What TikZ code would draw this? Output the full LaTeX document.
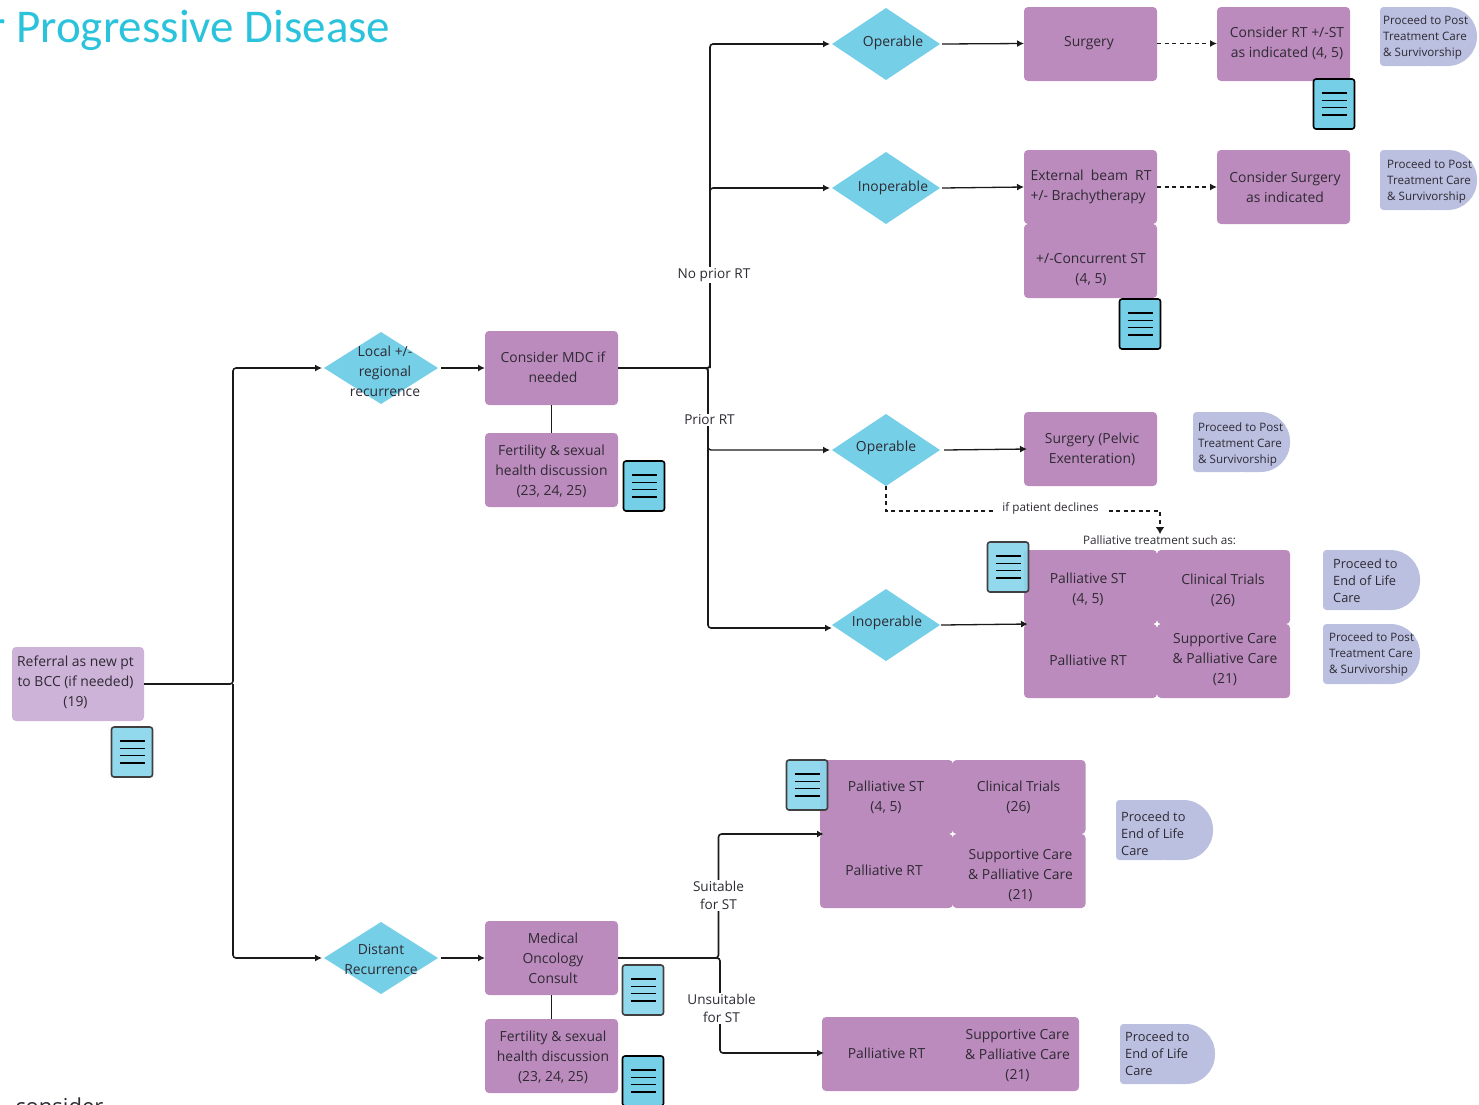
\documentclass[tikz,border=0pt]{standalone}
\usepackage{fontspec}
\setmainfont{Open Sans}
\newfontfamily\titlefont{Carlito}
\usetikzlibrary{shapes.geometric,arrows.meta}
\definecolor{purp}{HTML}{BC8BBD}
\definecolor{lpurp}{HTML}{CDB3D8}
\definecolor{lav}{HTML}{BBBFE0}
\definecolor{cyan1}{HTML}{75CFE7}
\definecolor{ttl}{HTML}{2BC3DC}
\definecolor{ink}{HTML}{2E2A33}
\definecolor{lnk}{HTML}{1A1A1A}
\tikzset{
 pbox/.style={rectangle,rounded corners=4pt,fill=purp,minimum width=133,minimum height=74,inner sep=0pt,outer sep=0pt},
 dia/.style={diamond,fill=cyan1,minimum width=108,minimum height=72,inner sep=0pt,outer sep=0pt},
 lbl/.style={align=center,text=ink,inner sep=0pt,yshift=-1pt,font=\fontsize{13.9}{20}\selectfont},
 tlbl/.style={align=left,anchor=west,text=ink,inner sep=0pt,yshift=-1pt,font=\fontsize{11.6}{16}\selectfont},
 tlblb/.style={align=left,anchor=west,text=ink,inner sep=0pt,yshift=-.6pt,font=\fontsize{12.8}{17}\selectfont},
 conn/.style={draw=lnk,line width=1.6pt,rounded corners=3pt},
 arr/.style={-{Latex[length=7pt,width=7pt]}},
 dashln/.style={draw=lnk,line width=1.5pt,dash pattern=on 4pt off 3.5pt},
 wlbl/.style={align=center,fill=white,text=ink,inner sep=1pt,yshift=-1pt,font=\fontsize{13.6}{19}\selectfont},
 slbl/.style={fill=white,text=ink,inner sep=1pt,yshift=-.5pt,font=\fontsize{11.7}{14}\selectfont},
 doc/.style={rectangle,rounded corners=2.5pt,draw=black,line width=1.6pt,fill=cyan1,minimum width=41,minimum height=50,inner sep=0pt,outer sep=0pt},
 docsoft/.style={doc,draw=black!75,fill=cyan1!85!white,fill opacity=0.92},
 docl/.style={draw=black,line width=1.3pt},
}
% doc icon: name, centre x, centre y, style
\newcommand{\docicon}[4]{%
 \node[#4] (#1) at (#2,#3) {};
 \foreach \dy in {-11,-3.7,3.7,11}
  \draw[docl] ([xshift=-12.5pt,yshift=-\dy pt]#1.center) -- ([xshift=12.5pt,yshift=-\dy pt]#1.center);
}
% terminator: x0,y0,x1,y1
\newcommand{\termshape}[4]{%
 \fill[lav,rounded corners=3.5pt] (#1,#2) rectangle (#1+50,#4);
 \fill[lav,rounded corners=29.5pt] (#1+20,#2) rectangle (#3,#4);
}
\begin{document}
\begin{tikzpicture}[x=1pt,y=-1pt]
\useasboundingbox (0,0) rectangle (1479,1104);
\clip (0,0) rectangle (1479,1104);

% clipped page text
\node[anchor=base east,inner sep=0pt,text=ttl,font=\titlefont\fontsize{47}{50}\selectfont] (title) at (390.5,42) {r Progressive Disease};
\node[anchor=base west,inner sep=0pt,text=ink,font=\fontsize{22}{24}\selectfont] (cons) at (15,1114) {consider};

% process boxes
\node[pbox,fill=lpurp,minimum width=132] (ref) at (78,684) {};
\node[pbox] (mdc) at (551.5,368) {};
\node[pbox] (fert1) at (551.5,470) {};
\node[pbox] (med) at (551.5,958) {};
\node[pbox] (fert2) at (551.5,1056) {};
\node[pbox] (surg) at (1090.5,44) {};
\node[pbox] (crt) at (1283.5,44) {};
\node[pbox] (ebrt) at (1090.5,187) {};
\node[pbox] (conc) at (1090.5,261) {};
\node[pbox] (csurg) at (1283.5,187) {};
\node[pbox] (pelv) at (1090.5,449) {};
\node[pbox] (g1a) at (1090.5,587) {};
\node[pbox] (g1b) at (1223.5,587) {};
\node[pbox] (g1c) at (1090.5,661) {};
\node[pbox] (g1d) at (1223.5,661) {};
\node[pbox] (g2a) at (886.5,797) {};
\node[pbox] (g2b) at (1019,797) {};
\node[pbox] (g2c) at (886.5,871) {};
\node[pbox] (g2d) at (1019,871) {};
\node[pbox,minimum width=257] (last) at (950.5,1054) {};

% connecting stubs between stacked boxes
\draw[draw=lnk,line width=1.4pt] (mdc.south) -- (fert1.north);
\draw[draw=lnk,line width=1.4pt] (med.south) -- (fert2.north);

% diamonds
\node[dia,minimum width=114] (d1) at (381,368) {};
\node[dia,minimum width=114] (d2) at (381,958) {};
\node[dia] (d3) at (886,44) {};
\node[dia] (d4) at (886,188) {};
\node[dia] (d5) at (886,450) {};
\node[dia] (d6) at (886,625) {};

% junctions and free ends
\coordinate (j0) at (233,684);
\coordinate (j1) at (710,368);
\coordinate (j2) at (708,368);
\coordinate (j3) at (718.5,958);
\coordinate (j4) at (720,958);
\coordinate (dj) at (1160,511);
\coordinate (dend) at (1160,534);
\coordinate (g1in) at (1028,624);
\coordinate (g2in) at (824,834);
\coordinate (lastin) at (824,1053);

% connectors
\draw[conn,arr] (ref.east) -- (j0) |- ([xshift=-2pt]d1.west);
\draw[conn,arr] (j0) |- ([xshift=-2pt]d2.west);
\draw[conn,arr] ([xshift=3pt]d1.east) -- (mdc.west);
\draw[conn,arr] ([xshift=3pt]d2.east) -- (med.west);
\draw[conn,arr] (mdc.east) -- (j1) |- ([xshift=-2pt]d3.west);
\draw[conn,arr] (j1) |- ([xshift=-2pt]d4.west);
\draw[conn,arr] (mdc.east) -- (j2) |- ([xshift=0pt,yshift=-3pt]d6.west);
\draw[conn,arr,line width=1.4pt] (j2) |- ([xshift=-2pt]d5.west);
\draw[conn,arr,line width=1.3pt] ([xshift=2pt]d3.east) -- ([yshift=.5pt]surg.west);
\draw[conn,arr,line width=1.3pt] ([xshift=2pt]d4.east) -- (ebrt.west);
\draw[conn,arr,line width=1.3pt] ([xshift=4pt]d5.east) -- ([xshift=3pt]pelv.west);
\draw[conn,arr,line width=1.3pt] ([xshift=1pt]d6.east) -- (g1in);
\draw[dashln,-{Latex[length=7pt,width=7pt]}] ([yshift=.5pt]surg.east) -- ([yshift=.5pt]crt.west);
\draw[dashln,-{Latex[length=7pt,width=7pt]}] (ebrt.east) -- (csurg.west);
\draw[dashln,-{Latex[length=7pt,width=9pt]}] (d5.south) |- (dj) -- (dend);
\draw[conn,arr] (med.east) -- (j3) |- (g2in);
\draw[conn,arr] (med.east) -- (j4) |- (lastin);

% branch labels
\node[wlbl] (nrt) at (714,274) {No prior RT};
\node[wlbl] (prt) at (709.5,419) {Prior RT};
\node[wlbl] (sst) at (718.5,894.5) {Suitable\\[-0.5pt]for ST};
\node[wlbl] (ust) at (721.5,1007.5) {Unsuitable\\[-0.5pt]for ST};
\node[slbl,fill=white,inner xsep=7pt] (decl) at (1050.5,508) {if patient declines};
\node[slbl,fill=none] (pal) at (1159.5,540) {Palliative treatment such as:};

% box texts
\node[lbl] (treft) at (75.5,681) {Referral as new pt\\to BCC (if needed)\\(19)};
\node[lbl] (tmdc) at (553,366) {Consider MDC if\\needed};
\node[lbl] (tf1) at (551.5,470) {Fertility \& sexual\\health discussion\\(23, 24, 25)};
\node[lbl] (tmed) at (553,957) {Medical\\Oncology\\Consult};
\node[lbl] (tf2) at (553,1056) {Fertility \& sexual\\health discussion\\(23, 24, 25)};
\node[lbl] (tsurg) at (1089,42) {Surgery};
\node[lbl] (tcrt) at (1287,42) {Consider RT +/-ST\\as indicated (4, 5)};
\node[lbl,align=left] (tebrt) at (1091,186) {External\ \ beam\ \ RT\\+/- Brachytherapy};
\node[lbl] (tconc) at (1091,268.5) {+/-Concurrent ST\\(4, 5)};
\node[lbl] (tcsurg) at (1285,186) {Consider Surgery\\as indicated};
\node[lbl] (tpelv) at (1092,448) {Surgery (Pelvic\\Exenteration)};
\node[lbl] (tg1a) at (1088,588) {Palliative ST\\(4, 5)};
\node[lbl] (tg1b) at (1223,589.5) {Clinical Trials\\(26)};
\node[lbl] (tg1c) at (1088,659) {Palliative RT};
\node[lbl] (tg1d) at (1225,658) {Supportive Care\\\& Palliative Care\\(21)};
\node[lbl] (tg2a) at (886,796.5) {Palliative ST\\(4, 5)};
\node[lbl] (tg2b) at (1018.5,796.5) {Clinical Trials\\(26)};
\node[lbl] (tg2c) at (884,869) {Palliative RT};
\node[lbl] (tg2d) at (1020.5,874) {Supportive Care\\\& Palliative Care\\(21)};
\node[lbl] (tl1) at (886.5,1052) {Palliative RT};
\node[lbl] (tl2) at (1017.5,1054) {Supportive Care\\\& Palliative Care\\(21)};

% diamond texts
\node[lbl] (td1) at (385,370) {Local +/-\\regional\\recurrence};
\node[lbl] (td2) at (381,958) {Distant\\Recurrence};
\node[lbl] (td3) at (893,42) {Operable};
\node[lbl] (td4) at (893,187) {Inoperable};
\node[lbl] (td5) at (886,447) {Operable};
\node[lbl] (td6) at (887,622) {Inoperable};

% terminators
\termshape{1380}{7}{1477}{66}
\node[tlbl] (t1) at (1383,36) {Proceed to Post\\Treatment Care\\\& Survivorship};
\termshape{1380}{150}{1477}{210}
\node[tlbl] (t2) at (1387,180) {Proceed to Post\\Treatment Care\\\& Survivorship};
\termshape{1193}{412}{1290}{472}
\node[tlbl] (t3) at (1198,443) {Proceed to Post\\Treatment Care\\\& Survivorship};
\termshape{1323}{550}{1420}{610}
\node[tlblb] (t4) at (1333,580) {Proceed to\\End of Life\\Care};
\termshape{1323}{624}{1420}{684}
\node[tlbl] (t5) at (1329,653) {Proceed to Post\\Treatment Care\\\& Survivorship};
\termshape{1116}{800}{1213}{860}
\node[tlblb] (t6) at (1121,833) {Proceed to\\End of Life\\Care};
\termshape{1120}{1024}{1215}{1084}
\node[tlblb] (t7) at (1125,1053) {Proceed to\\End of Life\\Care};

% document icons
\docicon{i1}{1334}{104}{doc}
\docicon{i2}{1140}{324}{doc}
\docicon{i3}{644}{486}{doc}
\docicon{i4}{1008}{567}{docsoft}
\docicon{i5}{132}{752}{docsoft}
\docicon{i6}{807}{785}{docsoft}
\docicon{i7}{643}{990}{docsoft}
\docicon{i8}{643}{1081}{doc}
\end{tikzpicture}
\end{document}
